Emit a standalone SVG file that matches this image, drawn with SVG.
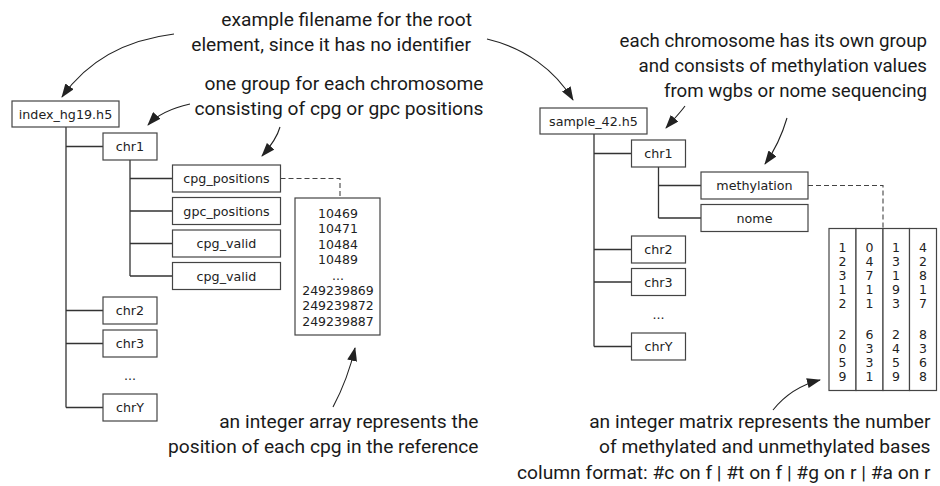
<svg xmlns="http://www.w3.org/2000/svg" width="940" height="486" viewBox="0 0 940 486">
<defs>
<marker id="ah" viewBox="0 0 14 10" refX="13" refY="5" markerWidth="14" markerHeight="10" markerUnits="userSpaceOnUse" orient="auto">
<path d="M0,0 L14,5 L0,10 z" fill="#222"/>
</marker>
</defs>
<style>
.box{fill:#fff;stroke:#444;stroke-width:1.2}
.lbl{font-family:"DejaVu Sans",sans-serif;font-size:12.7px;fill:#222;text-anchor:middle}
.num{font-family:"DejaVu Sans",sans-serif;font-size:12.5px;fill:#222;text-anchor:middle}
.tree{fill:none;stroke:#333;stroke-width:1.3}
.dash{fill:none;stroke:#444;stroke-width:1.1;stroke-dasharray:5,3}
.ann{font-family:Roboto,"Liberation Sans",sans-serif;font-size:19.2px;fill:#1a1a1a;text-anchor:end}
.annr{font-size:18.7px}
.arr{fill:none;stroke:#222;stroke-width:1.1;marker-end:url(#ah)}
</style>
<rect width="940" height="486" fill="#fff"/>

<g id="connectors">
<path class="tree" d="M66,127 V407.5 M66,146.5 H103 M66,310.5 H103 M66,343.5 H103 M66,407.5 H103"/>
<path class="tree" d="M130,160 V276 M130,178.5 H172.5 M130,211 H172.5 M130,243.5 H172.5 M130,276 H172.5"/>
<path class="tree" d="M594,134 V346.5 M594,153.5 H631.5 M594,249.5 H631.5 M594,282 H631.5 M594,346.5 H631.5"/>
<path class="tree" d="M658.5,167 V218 M658.5,185.5 H701 M658.5,218 H701"/>
<path class="dash" d="M280.5,178.5 H340 V198"/>
<path class="dash" d="M808,185.5 H883 V228.5"/>
<path class="arr" d="M174,34 C125,40 88,60 62,97"/>
<path class="arr" d="M487,39 C525,48 555,70 573,100"/>
<path class="arr" d="M190,104 C172,108 158,114 148,125"/>
<path class="arr" d="M280,127 C277,138 270,147 262,156"/>
<path class="arr" d="M685,106 C680,113 673,120 666,128"/>
<path class="arr" d="M787,118 C782,135 775,150 765,164"/>
<path class="arr" d="M333,407 C342,390 350,370 355,348"/>
<path class="arr" d="M773,410 C785,395 800,385 820,380"/>
</g>

<g id="index_hg19"><rect class="box" x="12" y="101" width="107" height="26"/><text class="lbl" x="65.5" y="118.6">index_hg19.h5</text></g>
<g id="l_chr1"><rect class="box" x="103" y="133" width="54" height="27"/><text class="lbl" x="130" y="151">chr1</text></g>
<g id="l_chr2"><rect class="box" x="103" y="297" width="54" height="27"/><text class="lbl" x="130" y="315">chr2</text></g>
<g id="l_chr3"><rect class="box" x="103" y="330" width="54" height="27"/><text class="lbl" x="130" y="348">chr3</text></g>
<g id="l_dots"><text class="lbl" x="130" y="379.5">...</text></g>
<g id="l_chrY"><rect class="box" x="103" y="394" width="54" height="27"/><text class="lbl" x="130" y="412">chrY</text></g>
<g id="cpg_positions"><rect class="box" x="172.5" y="165" width="108" height="27"/><text class="lbl" x="226.5" y="183">cpg_positions</text></g>
<g id="gpc_positions"><rect class="box" x="172.5" y="197.5" width="108" height="27"/><text class="lbl" x="226.5" y="215.5">gpc_positions</text></g>
<g id="cpg_valid1"><rect class="box" x="172.5" y="230" width="108" height="27"/><text class="lbl" x="226.5" y="248">cpg_valid</text></g>
<g id="cpg_valid2"><rect class="box" x="172.5" y="262.5" width="108" height="27"/><text class="lbl" x="226.5" y="280.5">cpg_valid</text></g>

<g id="array">
<rect class="box" x="295" y="198" width="85" height="137"/>
<text class="num" x="338" y="218">10469</text>
<text class="num" x="338" y="233.4">10471</text>
<text class="num" x="338" y="248.8">10484</text>
<text class="num" x="338" y="264.2">10489</text>
<text class="num" x="338" y="279.6">...</text>
<text class="num" x="338" y="295">249239869</text>
<text class="num" x="338" y="310.4">249239872</text>
<text class="num" x="338" y="325.8">249239887</text>
</g>

<g id="sample_42"><rect class="box" x="540" y="108" width="107" height="26"/><text class="lbl" x="593.5" y="125.6">sample_42.h5</text></g>
<g id="r_chr1"><rect class="box" x="631.5" y="140" width="54" height="27"/><text class="lbl" x="658.5" y="158">chr1</text></g>
<g id="methylation"><rect class="box" x="701" y="172" width="107" height="27"/><text class="lbl" x="754.5" y="190">methylation</text></g>
<g id="nome"><rect class="box" x="701" y="204.5" width="107" height="27"/><text class="lbl" x="754.5" y="222.5">nome</text></g>
<g id="r_chr2"><rect class="box" x="631.5" y="236" width="54" height="27"/><text class="lbl" x="658.5" y="254">chr2</text></g>
<g id="r_chr3"><rect class="box" x="631.5" y="268.5" width="54" height="27"/><text class="lbl" x="658.5" y="286.5">chr3</text></g>
<g id="r_dots"><text class="lbl" x="658.5" y="318.5">...</text></g>
<g id="r_chrY"><rect class="box" x="631.5" y="333" width="54" height="27"/><text class="lbl" x="658.5" y="351">chrY</text></g>

<g id="matrix">
<rect class="box" x="829" y="228.5" width="27" height="162"/>
<rect class="box" x="856" y="228.5" width="27" height="162"/>
<rect class="box" x="883" y="228.5" width="26.5" height="162"/>
<rect class="box" x="909.5" y="228.5" width="27" height="162"/>
<text class="num" x="842.5"><tspan x="842.5" y="252">1</tspan><tspan x="842.5" y="266">2</tspan><tspan x="842.5" y="280">3</tspan><tspan x="842.5" y="294">1</tspan><tspan x="842.5" y="308">2</tspan><tspan x="842.5" y="338.5">2</tspan><tspan x="842.5" y="352.5">0</tspan><tspan x="842.5" y="366.5">5</tspan><tspan x="842.5" y="380.5">9</tspan></text>
<text class="num" x="869.5"><tspan x="869.5" y="252">0</tspan><tspan x="869.5" y="266">4</tspan><tspan x="869.5" y="280">7</tspan><tspan x="869.5" y="294">1</tspan><tspan x="869.5" y="308">1</tspan><tspan x="869.5" y="338.5">6</tspan><tspan x="869.5" y="352.5">3</tspan><tspan x="869.5" y="366.5">3</tspan><tspan x="869.5" y="380.5">1</tspan></text>
<text class="num" x="896"><tspan x="896" y="252">1</tspan><tspan x="896" y="266">3</tspan><tspan x="896" y="280">1</tspan><tspan x="896" y="294">9</tspan><tspan x="896" y="308">3</tspan><tspan x="896" y="338.5">2</tspan><tspan x="896" y="352.5">4</tspan><tspan x="896" y="366.5">5</tspan><tspan x="896" y="380.5">9</tspan></text>
<text class="num" x="923"><tspan x="923" y="252">4</tspan><tspan x="923" y="266">2</tspan><tspan x="923" y="280">8</tspan><tspan x="923" y="294">1</tspan><tspan x="923" y="308">7</tspan><tspan x="923" y="338.5">8</tspan><tspan x="923" y="352.5">3</tspan><tspan x="923" y="366.5">6</tspan><tspan x="923" y="380.5">8</tspan></text>
</g>

<g id="annotations">
<text class="ann" x="472" y="26">example filename for the root</text>
<text class="ann" x="471" y="50.5">element, since it has no identifier</text>
<text class="ann" x="483.5" y="89.5">one group for each chromosome</text>
<text class="ann" x="483.5" y="115">consisting of cpg or gpc positions</text>
<text class="ann annr" x="927" y="46.5">each chromosome has its own group</text>
<text class="ann annr" x="927" y="71.5">and consists of methylation values</text>
<text class="ann annr" x="927" y="96.5">from wgbs or nome sequencing</text>
<text class="ann" x="478.5" y="427.5">an integer array represents the</text>
<text class="ann" x="478.5" y="453">position of each cpg in the reference</text>
<text class="ann" x="930.5" y="427.5">an integer matrix represents the number</text>
<text class="ann" x="930.5" y="453">of methylated and unmethylated bases</text>
<text class="ann" x="930.5" y="478.5">column format: #c on f | #t on f | #g on r | #a on r</text>
</g>
</svg>
